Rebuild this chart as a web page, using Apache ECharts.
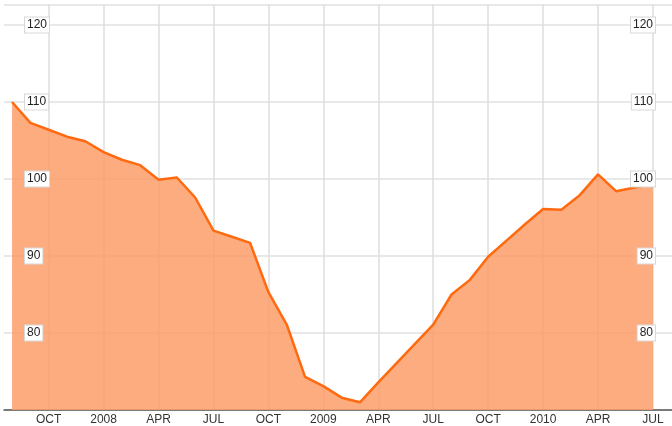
<!DOCTYPE html>
<html>
<head>
<meta charset="utf-8">
<script src="https://cdn.jsdelivr.net/npm/echarts@6/dist/echarts.min.js"></script>
<style>html,body{margin:0;padding:0;background:#fff}#c{width:672px;height:426px}</style>
</head>
<body>
<div id="c"></div>
<script>
// Monthly, Aug 2007 .. Jul 2010
const months = ['2007-08','2007-09','2007-10','2007-11','2007-12',
  '2008-01','2008-02','2008-03','2008-04','2008-05','2008-06','2008-07','2008-08','2008-09','2008-10','2008-11','2008-12',
  '2009-01','2009-02','2009-03','2009-04','2009-05','2009-06','2009-07','2009-08','2009-09','2009-10','2009-11','2009-12',
  '2010-01','2010-02','2010-03','2010-04','2010-05','2010-06','2010-07'];
const values = [110.0,107.3,106.4,105.5,104.9,
  103.5,102.5,101.8,99.9,100.2,97.6,93.3,92.5,91.7,85.3,81.1,74.3,
  73.1,71.6,71.0,73.6,76.1,78.6,81.1,85.0,86.9,89.9,92.0,94.1,
  96.1,96.0,97.9,100.6,98.4,98.9,99.4];
const tickMonths = ['2007-10','2008-01','2008-04','2008-07','2008-10','2009-01','2009-04','2009-07','2009-10','2010-01','2010-04','2010-07'];
const tickLabels = ['OCT','2008','APR','JUL','OCT','2009','APR','JUL','OCT','2010','APR','JUL'];
const yTicks = [80, 90, 100, 110, 120];

const tickIdx = tickMonths.map(m => months.indexOf(m));
const labelMap = {};
tickIdx.forEach((i, k) => { labelMap[i] = tickLabels[k]; });
const seriesData = values.map((v, i) => [i, v]);

const FONT = '"Liberation Sans Narrow", "Arial Narrow", "Liberation Sans", Arial, sans-serif';
const chart = echarts.init(document.getElementById('c'), null, {renderer: 'canvas'});
const yLabel = {
  inside: true,
  customValues: yTicks,
  color: '#222',
  fontFamily: FONT,
  fontSize: 12,
  backgroundColor: '#fff',
  borderColor: '#d8d8d8',
  borderWidth: 1,
  padding: [2, 2, 1, 2]
};
const yBase = {type: 'value', min: 70, max: 122.6, interval: 10, axisLine: {show: false}, axisTick: {show: false}};
chart.setOption({
  animation: false,
  grid: {left: 4, right: 0, top: 5, bottom: 14, containLabel: false},
  xAxis: {
    type: 'value',
    min: -0.44,
    max: 36.04,
    axisLine: {show: true, lineStyle: {color: '#555', width: 1.5}},
    axisTick: {show: false, customValues: tickIdx},
    axisLabel: {
      customValues: tickIdx,
      formatter: v => labelMap[Math.round(v)] || '',
      color: '#333',
      fontFamily: FONT,
      fontSize: 12,
      margin: 4
    },
    splitLine: {show: true, lineStyle: {color: '#dedede', width: 1.5}}
  },
  yAxis: [
    Object.assign({}, yBase, {
      position: 'left', z: 0,
      axisLabel: {show: false},
      splitLine: {show: true, lineStyle: {color: '#e0e0e0', width: 1.5}}
    }),
    Object.assign({}, yBase, {
      position: 'left', z: 10,
      axisLabel: Object.assign({}, yLabel, {margin: 21}),
      splitLine: {show: false}
    }),
    Object.assign({}, yBase, {
      position: 'right', z: 10,
      axisLabel: Object.assign({}, yLabel, {margin: 17}),
      splitLine: {show: false}
    })
  ],
  series: [{
    type: 'line',
    data: seriesData,
    yAxisIndex: 0,
    symbol: 'none',
    lineStyle: {color: '#ff6a10', width: 2.5},
    areaStyle: {color: 'rgb(251,157,103)', opacity: 0.85, origin: 'start'},
    z: 2
  }]
});
</script>
</body>
</html>
